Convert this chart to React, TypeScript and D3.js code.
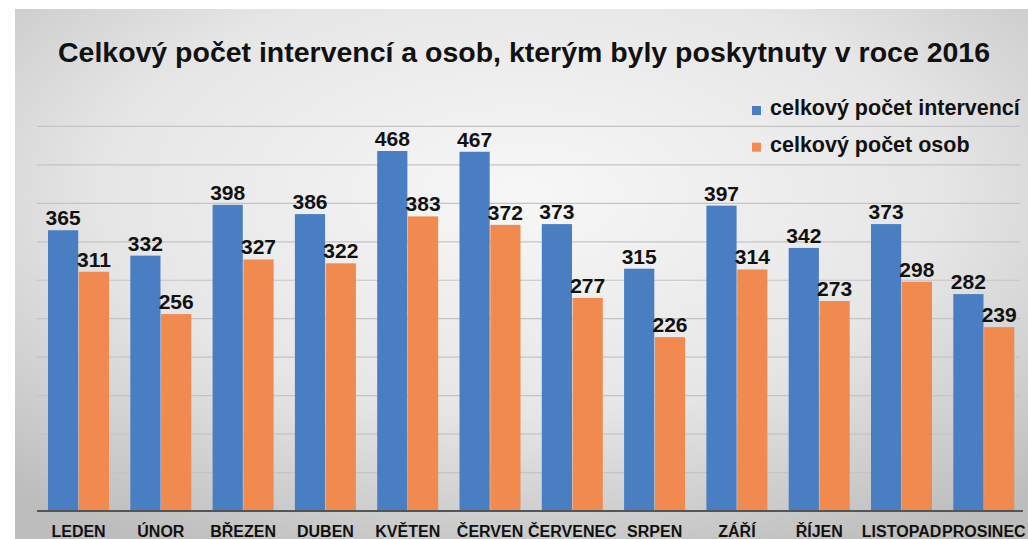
import React from "react";
import * as d3 from "d3";

const title = "Celkový počet intervencí a osob, kterým byly poskytnuty v roce 2016";
const months = ["LEDEN", "ÚNOR", "BŘEZEN", "DUBEN", "KVĚTEN", "ČERVEN", "ČERVENEC", "SRPEN", "ZÁŘÍ", "ŘÍJEN", "LISTOPAD", "PROSINEC"];
const interventions = [365, 332, 398, 386, 468, 467, 373, 315, 397, 342, 373, 282];
const persons = [311, 256, 327, 322, 383, 372, 277, 226, 314, 273, 298, 239];
const seriesNames = ["celkový počet intervencí", "celkový počet osob"];
const colors = ["#4a7ec2", "#f08a4e"];
const yTicks = [50, 100, 150, 200, 250, 300, 350, 400, 450, 500];

const W = 1028;
const H = 539;
const FONT = "'Liberation Sans', Arial, Helvetica, sans-serif";

export default function App() {
  const x0 = d3.scaleBand<string>().domain(months).range([37.4, 1025]).padding(0);
  const x1 = d3.scaleBand<number>().domain([0, 1]).range([10.6, 71.6]).paddingInner(0.02);
  const y = d3.scaleLinear().domain([0, 500]).range([511, 126.4]);
  const series = [interventions, persons];

  return (
    <svg width={W} height={H} style={{ position: "absolute", left: 0, top: 0 }} fontFamily={FONT}>
      <defs>
        <radialGradient id="bg" cx="50%" cy="35%" r="75%">
          <stop offset="0%" stopColor="#f7f7f7" />
          <stop offset="55%" stopColor="#e6e6e6" />
          <stop offset="100%" stopColor="#bdbdbd" />
        </radialGradient>
      </defs>
      <rect x={0} y={0} width={W} height={H} fill="#ffffff" />
      <rect x={15} y={9} width={W - 15} height={H - 9} fill="url(#bg)" />
      <text x={524} y={62} textAnchor="middle" fontSize={27} fontWeight="bold" fill="#111" textLength={932} lengthAdjust="spacingAndGlyphs">
        {title}
      </text>
      {yTicks.map((t) => (
        <line key={t} x1={37} x2={1020} y1={y(t)} y2={y(t)} stroke="#c4c4c4" strokeWidth={1.2} />
      ))}
      {months.map((m, i) => (
        <g key={m} transform={`translate(${x0(m)},0)`}>
          {series.map((s, j) => (
            <g key={j}>
              <rect x={x1(j)} y={y(s[i])} width={x1.bandwidth()} height={y(0) - y(s[i])} fill={colors[j]} />
              <text x={(x1(j) as number) + x1.bandwidth() / 2} y={y(s[i]) - 5} textAnchor="middle" fontSize={21} fontWeight="bold" fill="#111">
                {s[i]}
              </text>
            </g>
          ))}
          <text x={x0.bandwidth() / 2} y={536.5} textAnchor="middle" fontSize={16} fontWeight="bold" fill="#111">
            {m}
          </text>
        </g>
      ))}
      <line x1={37} x2={1023} y1={y(0)} y2={y(0)} stroke="#555" strokeWidth={2} />
      {seriesNames.map((n, j) => (
        <g key={n} transform={`translate(752,${115 + j * 36.7})`}>
          <rect x={0} y={-9} width={9} height={9} fill={colors[j]} />
          <text x={18} y={0} fontSize={21.5} fontWeight="bold" fill="#111">
            {n}
          </text>
        </g>
      ))}
    </svg>
  );
}
